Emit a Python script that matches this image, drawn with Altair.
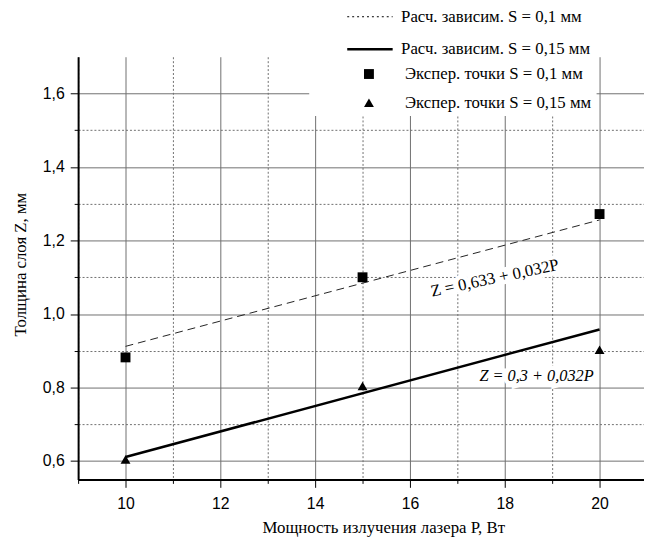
import altair as alt
import pandas as pd

# ---- data ----
P_exp = [10, 15, 20]
Z_exp_s01 = [0.882, 1.100, 1.272]
Z_exp_s015 = [0.604, 0.804, 0.903]

P_calc = [10, 20]
Z_calc_s01 = [0.912, 1.256]
Z_calc_s015 = [0.611, 0.958]

calc_names = ["Расч. зависим. S = 0,1 мм", "Расч. зависим. S = 0,15 мм"]
exp_names = ["Экспер. точки S = 0,1 мм", "Экспер. точки S = 0,15 мм"]

eq_text = ["Z = 0,633 + 0,032P", "Z = 0,3 + 0,032P"]
eq_P = [17.79, 18.67]
eq_Z = [1.097, 0.831]

x_ticks = list(range(9, 21))
y_ticks = [0.6, 0.7, 0.8, 0.9, 1.0, 1.1, 1.2, 1.3, 1.4, 1.5, 1.6]

# ---- tables ----
df_c01 = pd.DataFrame({"P": P_calc, "Z": Z_calc_s01})
df_c015 = pd.DataFrame({"P": P_calc, "Z": Z_calc_s015})
df_calc = pd.DataFrame({
    "P": P_calc + P_calc,
    "Z": Z_calc_s01 + Z_calc_s015,
    "series": [calc_names[0]] * 2 + [calc_names[1]] * 2,
})
df_exp = pd.DataFrame({
    "P": P_exp + P_exp,
    "Z": Z_exp_s01 + Z_exp_s015,
    "series": [exp_names[0]] * 3 + [exp_names[1]] * 3,
})
df_eq1 = pd.DataFrame({"P": [eq_P[0]], "Z": [eq_Z[0]], "t": [eq_text[0]]})
df_eq2 = pd.DataFrame({"P": [eq_P[1]], "Z": [eq_Z[1]], "t": [eq_text[1]]})

SERIF = "Liberation Serif"
SANS = "Liberation Sans"
GRID = "#6f6f6f"

x_axis = alt.Axis(
    values=x_ticks,
    labelExpr="datum.value % 2 === 0 ? format(datum.value, 'd') : ''",
    labelFont=SANS, labelFontSize=16, labelColor="black", labelPadding=8,
    tickColor="black", tickWidth=1,
    tickSize={"condition": {"test": "datum.value % 2 === 0", "value": 8}, "value": 4},
    domainColor="black", domainWidth=2,
    grid=True, gridColor=GRID, gridWidth=1,
    gridDash={"condition": {"test": "datum.value % 2 === 0", "value": []}, "value": [2, 2]},
    title="Мощность излучения лазера P, Вт",
    titleFont=SERIF, titleFontSize=17, titleFontWeight="normal", titleColor="black",
    titleX=309, titleY=54, titleAlign="center", titleBaseline="alphabetic",
)
y_axis = alt.Axis(
    values=y_ticks,
    labelExpr="round(datum.value*10) % 2 === 0 ? replace(format(datum.value, '.1f'), '.', ',') : ''",
    labelFont=SANS, labelFontSize=16, labelColor="black", labelPadding=6,
    tickColor="black", tickWidth=1,
    tickSize={"condition": {"test": "round(datum.value*10) % 2 === 0", "value": 8}, "value": 4},
    domainColor="black", domainWidth=2,
    grid=True, gridColor=GRID, gridWidth=1,
    gridDash={"condition": {"test": "round(datum.value*10) % 2 === 0", "value": []}, "value": [2, 2]},
    title="Толщина слоя Z, мм",
    titleFont=SERIF, titleFontSize=17, titleFontWeight="normal", titleColor="black",
    titleAngle=270, titleX=-58, titleY=210, titleAlign="center", titleBaseline="middle",
)

X = alt.X("P:Q", scale=alt.Scale(domain=[9, 20.9375], nice=False, zero=False), axis=x_axis)
Y = alt.Y("Z:Q", scale=alt.Scale(domain=[0.55, 1.70], nice=False, zero=False), axis=y_axis)

line_legend = alt.Legend(
    title=None, orient="none", legendX=234, legendY=-69,
    fillColor="white", padding=5, rowPadding=-28, labelLimit=400,
    labelFont=SERIF, labelFontSize=17, labelColor="black",
    symbolType="stroke", symbolSize=2116, symbolStrokeColor="black",
    symbolOffset=32, labelOffset=7,
)
pt_legend = alt.Legend(
    title=None, orient="none", legendX=234, legendY=4,
    fillColor="white", padding=5, rowPadding=11, labelLimit=400,
    labelFont=SERIF, labelFontSize=17, labelColor="black",
    symbolSize=100, symbolFillColor="black", symbolStrokeColor="black",
    symbolOffset=47, labelOffset=28,
)

dashed = alt.Chart(df_c01).mark_line(color="#222222", strokeWidth=1, strokeDash=[8, 5]).encode(x=X, y=Y)
solid = alt.Chart(df_c015).mark_line(color="black", strokeWidth=2.5).encode(x=X, y=Y)

legend_proxy = alt.Chart(df_calc).transform_filter("false").mark_line(color="black").encode(
    x=X, y=Y,
    strokeDash=alt.StrokeDash("series:N", scale=alt.Scale(domain=calc_names, range=[[2, 3], [1, 0]]), legend=line_legend),
    strokeWidth=alt.StrokeWidth("series:N", scale=alt.Scale(domain=calc_names, range=[1, 2.5]), legend=line_legend),
)

points = alt.Chart(df_exp).mark_point(filled=True, color="black", size=100, opacity=1).encode(
    x=X, y=Y,
    shape=alt.Shape("series:N", scale=alt.Scale(domain=exp_names, range=["square", "triangle-up"]), legend=pt_legend),
)

eq1_halo = alt.Chart(df_eq1).mark_text(font=SERIF, fontSize=17, angle=348, stroke="white", strokeWidth=9,
                                       color="white", align="center", baseline="middle").encode(x=X, y=Y, text="t:N")
eq1 = alt.Chart(df_eq1).mark_text(font=SERIF, fontSize=17, angle=348, color="black",
                                  align="center", baseline="middle").encode(x=X, y=Y, text="t:N")
eq2_halo = alt.Chart(df_eq2).mark_text(font=SERIF, fontSize=16.5, fontStyle="italic", stroke="white", strokeWidth=9,
                                       color="white", align="center", baseline="middle").encode(x=X, y=Y, text="t:N")
eq2 = alt.Chart(df_eq2).mark_text(font=SERIF, fontSize=16.5, fontStyle="italic", color="black",
                                  align="center", baseline="middle").encode(x=X, y=Y, text="t:N")

chart = alt.layer(dashed, solid, legend_proxy, eq1_halo, eq2_halo, points, eq1, eq2).properties(
    width=573, height=428,
    autosize=alt.AutoSizeParams(type="none"),
    padding={"left": 71, "top": 46, "right": 0, "bottom": 59},
    background="white",
).configure_view(stroke=None)

chart.save("out.html", embed_options={"renderer": "svg", "actions": False})
